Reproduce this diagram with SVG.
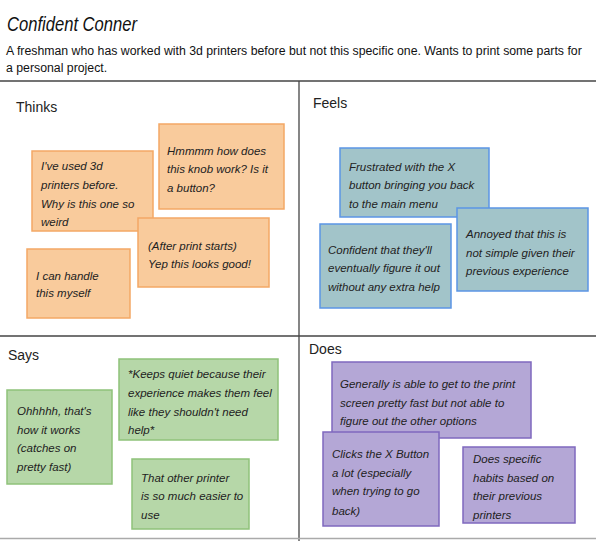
<svg xmlns="http://www.w3.org/2000/svg" width="596" height="541" viewBox="0 0 596 541">
<style>
.bg{fill:#ffffff}
.grid{stroke:#444;stroke-width:1.3;fill:none}
.title{font-family:"Liberation Sans",Arial,sans-serif;font-style:italic;font-size:21px;fill:#111}
.sub{font-family:"Liberation Sans",Arial,sans-serif;font-size:12.3px;fill:#111}
.lbl{font-family:"Liberation Sans",Arial,sans-serif;font-size:14px;fill:#222}
.nt{font-family:"Liberation Sans",Arial,sans-serif;font-style:italic;font-size:11.5px;fill:#222}
.or{fill:#f9cb9c;stroke:#f3a865;stroke-width:1.5}
.bl{fill:#a2c4c9;stroke:#5b95e5;stroke-width:1.5}
.gr{fill:#b6d7a8;stroke:#8fc27a;stroke-width:1.5}
.pu{fill:#b4a7d6;stroke:#7f68be;stroke-width:1.5}
</style>
<rect class="bg" x="0" y="0" width="596" height="541"/>
<g id="header">
<text class="title" x="7" y="31" textLength="130" lengthAdjust="spacingAndGlyphs">Confident Conner</text>
<text class="sub" x="6" y="55">A freshman who has worked with 3d printers before but not this specific one. Wants to print some parts for</text>
<text class="sub" x="6" y="72">a personal project.</text>
</g>
<g id="grid">
<line class="grid" x1="0" y1="81" x2="596" y2="81"/>
<line class="grid" x1="299" y1="81" x2="299" y2="541"/>
<line class="grid" x1="0" y1="336" x2="596" y2="336"/>
<line x1="0" y1="538.5" x2="596" y2="538.5" stroke="#aaa" stroke-width="1.3"/>
</g>
<g id="labels">
<text class="lbl" x="16" y="112">Thinks</text>
<text class="lbl" x="313" y="108">Feels</text>
<text class="lbl" x="8" y="360">Says</text>
<text class="lbl" x="309" y="354">Does</text>
</g>
<g id="thinks-1">
<rect class="or" x="32" y="151" width="121" height="80"/>
<text class="nt" x="41" y="170">I've used 3d</text>
<text class="nt" x="41" y="189">printers before.</text>
<text class="nt" x="41" y="208">Why is this one so</text>
<text class="nt" x="41" y="226">weird</text>
</g>
<g id="thinks-2">
<rect class="or" x="159" y="124" width="125" height="85"/>
<text class="nt" x="167" y="155">Hmmmm how does</text>
<text class="nt" x="167" y="173">this knob work? Is it</text>
<text class="nt" x="167" y="192">a button?</text>
</g>
<g id="thinks-3">
<rect class="or" x="138" y="218" width="131" height="69"/>
<text class="nt" x="148" y="250">(After print starts)</text>
<text class="nt" x="148" y="268">Yep this looks good!</text>
</g>
<g id="thinks-4">
<rect class="or" x="27" y="249" width="103" height="69"/>
<text class="nt" x="36" y="280">I can handle</text>
<text class="nt" x="36" y="297">this myself</text>
</g>
<g id="feels-1">
<rect class="bl" x="340" y="148" width="149" height="69"/>
<text class="nt" x="349" y="171">Frustrated with the X</text>
<text class="nt" x="349" y="189">button bringing you back</text>
<text class="nt" x="349" y="208">to the main menu</text>
</g>
<g id="feels-2">
<rect class="bl" x="457" y="208" width="131" height="83"/>
<text class="nt" x="466" y="238">Annoyed that this is</text>
<text class="nt" x="466" y="257">not simple given their</text>
<text class="nt" x="466" y="275">previous experience</text>
</g>
<g id="feels-3">
<rect class="bl" x="320" y="224" width="131" height="84"/>
<text class="nt" x="328" y="254">Confident that they'll</text>
<text class="nt" x="328" y="272">eventually figure it out</text>
<text class="nt" x="328" y="291">without any extra help</text>
</g>
<g id="says-1">
<rect class="gr" x="7" y="390" width="105" height="94"/>
<text class="nt" x="17" y="415">Ohhhhh, that's</text>
<text class="nt" x="17" y="434">how it works</text>
<text class="nt" x="17" y="452">(catches on</text>
<text class="nt" x="17" y="471">pretty fast)</text>
</g>
<g id="says-2">
<rect class="gr" x="119" y="359" width="159" height="81"/>
<text class="nt" x="128" y="378">*Keeps quiet because their</text>
<text class="nt" x="128" y="397">experience makes them feel</text>
<text class="nt" x="128" y="416">like they shouldn't need</text>
<text class="nt" x="128" y="434">help*</text>
</g>
<g id="says-3">
<rect class="gr" x="132" y="459" width="117" height="70"/>
<text class="nt" x="141" y="482">That other printer</text>
<text class="nt" x="141" y="500">is so much easier to</text>
<text class="nt" x="141" y="519">use</text>
</g>
<g id="does-1">
<rect class="pu" x="332" y="362" width="199" height="76"/>
<text class="nt" x="340" y="388">Generally is able to get to the print</text>
<text class="nt" x="340" y="407">screen pretty fast but not able to</text>
<text class="nt" x="340" y="425">figure out the other options</text>
</g>
<g id="does-2">
<rect class="pu" x="323" y="432" width="116" height="94"/>
<text class="nt" x="332" y="458">Clicks the X Button</text>
<text class="nt" x="332" y="477">a lot (especially</text>
<text class="nt" x="332" y="495">when trying to go</text>
<text class="nt" x="332" y="515">back)</text>
</g>
<g id="does-3">
<rect class="pu" x="463" y="447" width="112" height="76"/>
<text class="nt" x="473" y="463">Does specific</text>
<text class="nt" x="473" y="482">habits based on</text>
<text class="nt" x="473" y="500">their previous</text>
<text class="nt" x="473" y="519">printers</text>
</g>
</svg>
